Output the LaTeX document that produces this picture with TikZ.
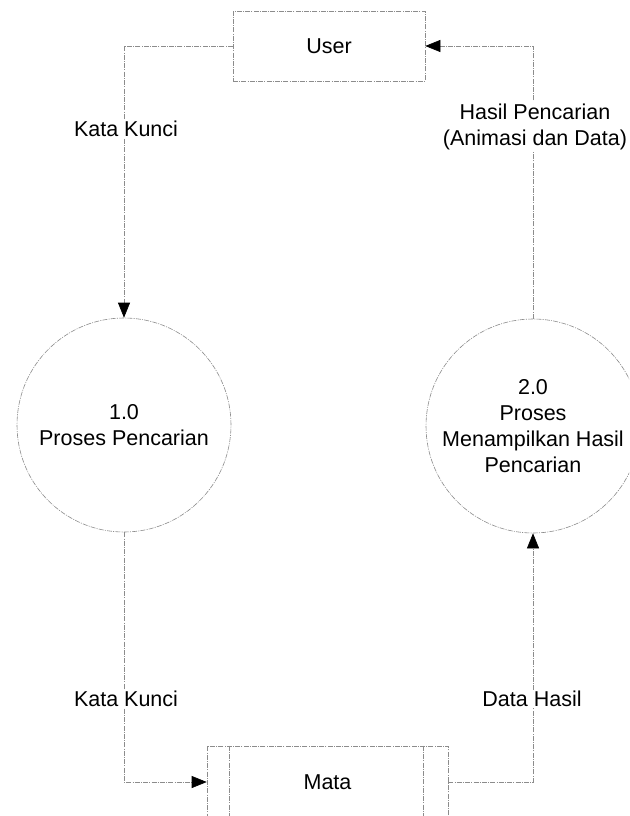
\documentclass[tikz,border=0pt]{standalone}
\usepackage{fontspec}
\setmainfont{Liberation Sans}
\usetikzlibrary{arrows.meta}
\begin{document}
\begin{tikzpicture}[x=1pt,y=-1pt,
  every node/.style={font=\fontsize{21.5}{26}\selectfont, align=center},
  edge/.style={draw=black!45, line width=0.6pt, dash pattern=on 5pt off 1.2pt on 1pt off 1.2pt},
  flow/.style={edge, -{Triangle[length=15pt,width=12pt,color=black]}},
  entity/.style={edge, rectangle, minimum width=192pt, minimum height=70pt, inner sep=0pt},
  process/.style={edge, circle, minimum size=214pt, inner sep=0pt},
  store/.style={edge, rectangle, minimum width=241pt, minimum height=72pt, inner sep=0pt},
  lbl/.style={fill=white, inner sep=1.5pt}]
\useasboundingbox (0,0) rectangle (629,816);
\clip (0,0) rectangle (629,816);
\fill[white] (0,0) rectangle (629,816);

% external entity, processes and data store
\node[entity]  (user) at (329,46)  {User};
\node[process] (p1)   at (124,425) {1.0\\Proses Pencarian};
\node[process] (p2)   at (533,426) {2.0\\Proses\\Menampilkan Hasil\\Pencarian};
\node[store]   (mata) at (327.5,782) {Mata};
\draw[edge] ([xshift=23pt]mata.north west) -- ([xshift=23pt]mata.south west);
\draw[edge] ([xshift=-25pt]mata.north east) -- ([xshift=-25pt]mata.south east);

% data flows
\draw[flow] (user.west) -| (p1.north);
\draw[flow] (p2.north) |- (user.east);
\draw[flow] (p1.south) |- (mata.west);
\draw[flow] (mata.east) -| (p2.south);

% flow labels
\node[lbl] (kk1) at (126,129) {Kata Kunci};
\node[lbl] (hp)  at (535,127) {Hasil Pencarian\\(Animasi dan Data)};
\node[lbl] (kk2) at (126,699) {Kata Kunci};
\node[lbl] (dh)  at (532,699) {Data Hasil};
\end{tikzpicture}
\end{document}
